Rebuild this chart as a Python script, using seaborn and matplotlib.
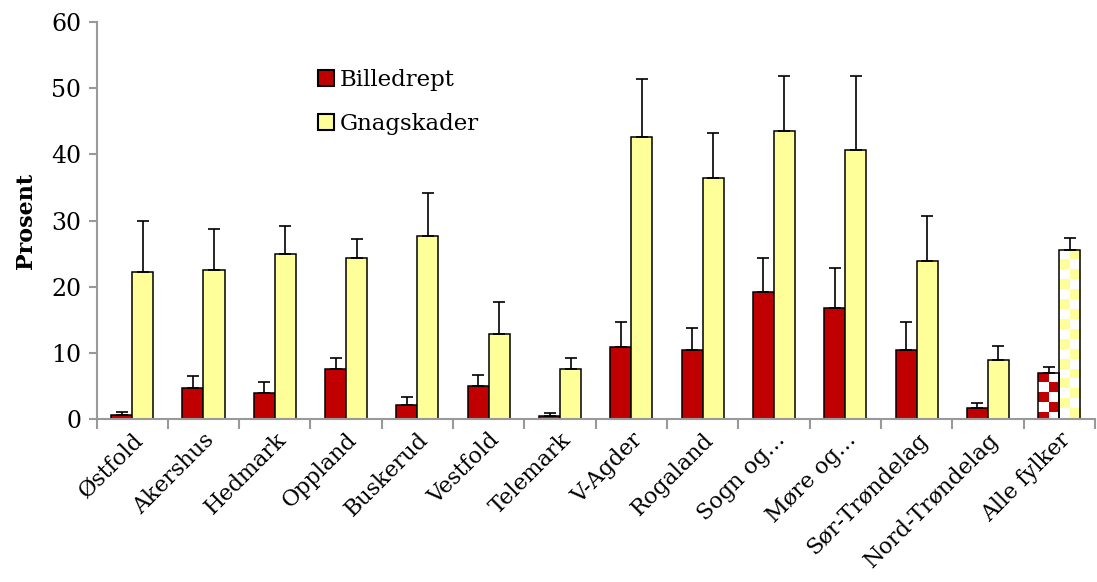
import numpy as np
import pandas as pd
import matplotlib.pyplot as plt
import seaborn as sns
from matplotlib.lines import Line2D
from matplotlib.colors import ListedColormap

fylker = ['Østfold', 'Akershus', 'Hedmark', 'Oppland', 'Buskerud', 'Vestfold',
          'Telemark', 'V-Agder', 'Rogaland', 'Sogn og…', 'Møre og…',
          'Sør-Trøndelag', 'Nord-Trøndelag', 'Alle fylker']
billedrept = [0.6, 4.7, 4.0, 7.6, 2.1, 5.0, 0.5, 10.9, 10.5, 19.2, 16.8, 10.4, 1.7, 7.0]
billedrept_err = [0.4, 1.8, 1.6, 1.6, 1.2, 1.7, 0.4, 3.8, 3.2, 5.1, 6.0, 4.3, 0.7, 0.8]
gnagskader = [22.2, 22.6, 24.9, 24.3, 27.7, 12.8, 7.5, 42.7, 36.5, 43.5, 40.7, 23.9, 9.0, 25.6]
gnagskader_err = [7.8, 6.1, 4.3, 2.9, 6.4, 4.9, 1.7, 8.7, 6.8, 8.3, 11.2, 6.8, 2.0, 1.7]

series = ['Billedrept', 'Gnagskader']
colors = ['#C00000', '#FFFF99']

df = pd.DataFrame({
    'fylke': fylker * 2,
    'serie': [series[0]] * len(fylker) + [series[1]] * len(fylker),
    'prosent': billedrept + gnagskader,
})

plt.rcParams['font.family'] = ['DejaVu Serif']
fig, ax = plt.subplots(figsize=(10.97, 5.82), dpi=100)
fig.subplots_adjust(left=0.088, right=0.998, top=0.962, bottom=0.28)

sns.barplot(data=df, x='fylke', y='prosent', hue='serie', palette=colors,
            saturation=1, width=0.59, errorbar=None, edgecolor='black',
            linewidth=1.1, legend=False, ax=ax)

errs = [billedrept_err, gnagskader_err]
for i, (cont, err, col) in enumerate(zip(ax.containers, errs, colors)):
    xs = [p.get_x() + p.get_width() / 2 for p in cont]
    hs = [p.get_height() for p in cont]
    ax.errorbar(xs, hs, yerr=[np.zeros(len(err)), err], fmt='none',
                ecolor='black', elinewidth=1.2, capsize=4.5, capthick=1.2,
                zorder=3)
    # checkered fill for "Alle fylker"
    p = cont[-1]
    x0, w, h = p.get_x(), p.get_width(), p.get_height()
    cell = 1.5
    nrows = int(np.ceil(h / cell))
    checker = np.indices((nrows, 2)).sum(axis=0) % 2
    cmap = ListedColormap([col, 'white'] if i == 0 else ['white', col])
    im = ax.imshow(checker, extent=(x0, x0 + w, h - nrows * cell, h), cmap=cmap,
                   aspect='auto', interpolation='nearest', origin='upper',
                   zorder=p.get_zorder() + 0.1)
    im.set_clip_path(p)
    p.set_facecolor('none')
    p.set_zorder(p.get_zorder() + 0.2)

ax.set_xlim(-0.5, len(fylker) - 0.5)
ax.set_ylim(0, 60)
ax.set_yticks(range(0, 61, 10))
ax.set_xlabel('')
ax.set_ylabel('Prosent', fontsize=16, fontweight='bold', labelpad=10)

ax.set_xticks(range(len(fylker)))
ax.set_xticklabels(fylker, rotation=45, ha='right', rotation_mode='anchor', fontsize=16)
ax.set_xticks(np.arange(-0.5, len(fylker), 1), minor=True)
ax.tick_params(axis='x', which='major', length=0, pad=7)
ax.tick_params(axis='x', which='minor', length=7, width=1.5, color='#999999')
ax.tick_params(axis='y', length=6, width=1.5, color='#999999', labelsize=17, pad=5)

for s in ['top', 'right']:
    ax.spines[s].set_visible(False)
for s in ['left', 'bottom']:
    ax.spines[s].set_color('#999999')
    ax.spines[s].set_linewidth(1.5)

handles = [Line2D([], [], marker='s', linestyle='none', markersize=11,
                  markerfacecolor=c, markeredgecolor='black', markeredgewidth=1.5)
           for c in colors]
ax.legend(handles, series, loc='upper left', bbox_to_anchor=(0.198, 0.935),
          frameon=False, fontsize=16.5, labelspacing=1.0, handletextpad=0.1,
          handlelength=1.0)

fig.savefig('out.png', dpi=100)
